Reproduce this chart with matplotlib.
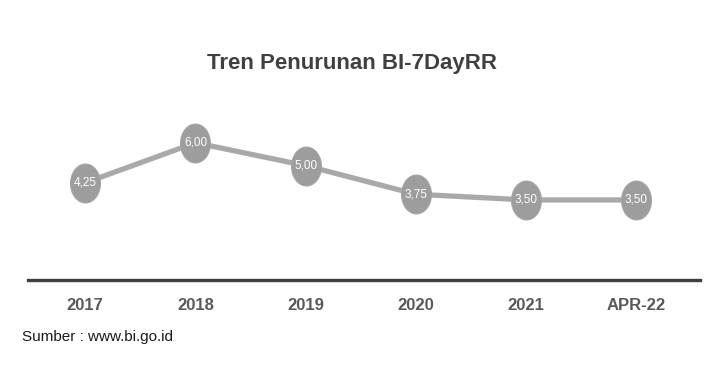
import matplotlib
matplotlib.use('Agg')
import matplotlib.pyplot as plt
from matplotlib.path import Path
from matplotlib.transforms import Affine2D
import numpy as np

periods = ['2017', '2018', '2019', '2020', '2021', 'APR-22']
rates = [4.25, 6.00, 5.00, 3.75, 3.50, 3.50]
labels = ['4,25', '6,00', '5,00', '3,75', '3,50', '3,50']

W, H = 720, 383
fig = plt.figure(figsize=(W / 100, H / 100), dpi=100)
fig.patch.set_facecolor('white')

# tall ellipse marker (the original bubbles are ~30x39 px)
ellipse = Affine2D().scale(1.0, 1.3).transform_path(Path.unit_circle())

# axes: x from 28 to 700 px, y=0 at 280 px, y=8 at ~97 px
ax = fig.add_axes([28 / W, 1 - 280 / H, 672 / W, 183 / H])
x = np.arange(len(periods))
ax.plot(x, rates, color='#a9a9a9', lw=3.8, zorder=2, solid_capstyle='round')
ax.plot(x, rates, ls='none', marker=ellipse, ms=28, mfc='#9d9d9d', mec='#a5a5a5',
        mew=0.8, zorder=3)
for xi, yi, lab in zip(x, rates, labels):
    ax.text(xi, yi, lab, ha='center', va='center', color='white',
            fontsize=8.5, family='Liberation Sans', zorder=4)

ax.set_xlim(-0.52, 5.58)
ax.set_ylim(0, 8)
for s in ['top', 'right', 'left']:
    ax.spines[s].set_visible(False)
ax.spines['bottom'].set_color('#3f3f3f')
ax.spines['bottom'].set_linewidth(2.4)
ax.set_yticks([])
ax.set_xticks(x)
ax.set_xticklabels(periods, fontsize=12, color='#595959', fontweight='bold',
                   family='Liberation Sans')
ax.tick_params(axis='x', length=0, pad=13)

fig.text(352 / W, 1 - 63 / H, 'Tren Penurunan BI-7DayRR', ha='center', va='center',
         fontsize=16, fontweight='bold', color='#404040', family='Liberation Sans')
fig.text(22 / W, 1 - 337 / H, 'Sumber : www.bi.go.id', ha='left', va='center',
         fontsize=11, color='#1a1a1a', family='Liberation Sans')

fig.savefig('out.png', dpi=100)
